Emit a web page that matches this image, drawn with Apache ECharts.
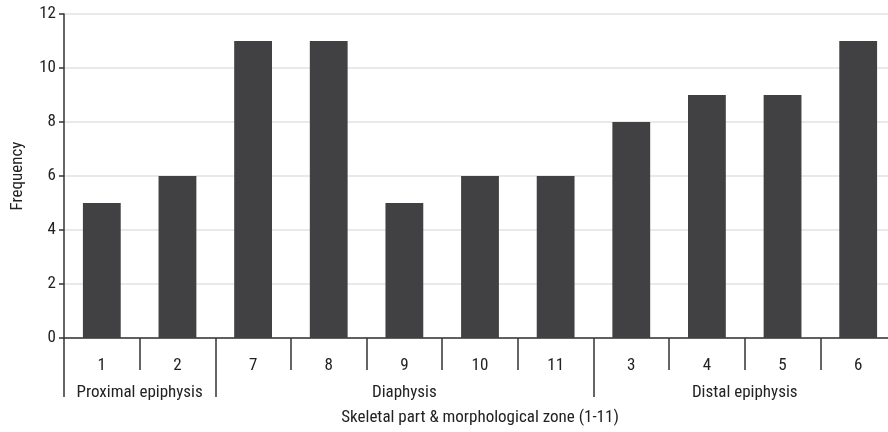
<!DOCTYPE html>
<html>
<head>
<meta charset="utf-8">
<script src="https://cdn.jsdelivr.net/npm/echarts@6/dist/echarts.min.js"></script>
<style>html,body{margin:0;padding:0;background:#fff}#c{width:888px;height:432px}</style>
</head>
<body>
<div id="c"></div>
<script>
var categories = ['1','2','7','8','9','10','11','3','4','5','6'];
var frequency = [5,6,11,11,5,6,6,8,9,9,11];
var groupNames = ['Proximal epiphysis','Diaphysis','Distal epiphysis'];
var groupSizes = [2,5,4];
var yTicks = [0,2,4,6,8,10,12];

var FONT = "'Liberation Sans Narrow','Arial Narrow','Roboto Condensed',sans-serif";
var TXT = '#222';

var bounds = [0], centers = [];
groupSizes.forEach(function(s){ var b = bounds[bounds.length-1]; centers.push(b + s/2); bounds.push(b + s); });

var chart = echarts.init(document.getElementById('c'), null, {renderer:'canvas'});
chart.setOption({
  animation:false,
  grid:{left:64, right:-8, top:14, bottom:94, containLabel:false, outerBoundsMode:'none'},
  xAxis:[{
    type:'category', data:categories, boundaryGap:true,
    name:'Skeletal part & morphological zone (1-11)', nameLocation:'middle', nameGap:71,
    nameTextStyle:{fontFamily:FONT, fontSize:17, color:TXT},
    axisLine:{lineStyle:{color:'#333', width:1.5}},
    axisTick:{show:true, length:32, interval:0, lineStyle:{color:'#333', width:1.5}},
    axisLabel:{fontFamily:FONT, fontSize:17, color:TXT, margin:19, interval:0}
  },{
    type:'value', min:0, max:groupSizes.reduce(function(a,b){return a+b;},0), position:'bottom',
    axisLine:{show:false}, splitLine:{show:false},
    axisTick:{show:true, length:59, customValues:bounds, lineStyle:{color:'#333', width:1.5}},
    axisLabel:{show:true, customValues:centers, margin:46, fontFamily:FONT, fontSize:17, color:TXT,
      formatter:function(v){ var i = centers.indexOf(v); return i>=0 ? groupNames[i] : ''; }}
  }],
  yAxis:{
    type:'value', min:yTicks[0], max:yTicks[yTicks.length-1], interval:2,
    name:'Frequency', nameLocation:'middle', nameGap:38,
    nameTextStyle:{fontFamily:FONT, fontSize:17, color:TXT},
    axisLine:{show:true, lineStyle:{color:'#333', width:1.5}},
    axisTick:{show:true, length:5, lineStyle:{color:'#333', width:1.5}},
    axisLabel:{fontFamily:FONT, fontSize:17, color:TXT, margin:8},
    splitLine:{lineStyle:{color:'#e2e2e2', width:1.5}}
  },
  series:[{
    type:'bar', data:frequency, xAxisIndex:0, barWidth:'50%',
    itemStyle:{color:'#414143'}
  }]
});
</script>
</body>
</html>
